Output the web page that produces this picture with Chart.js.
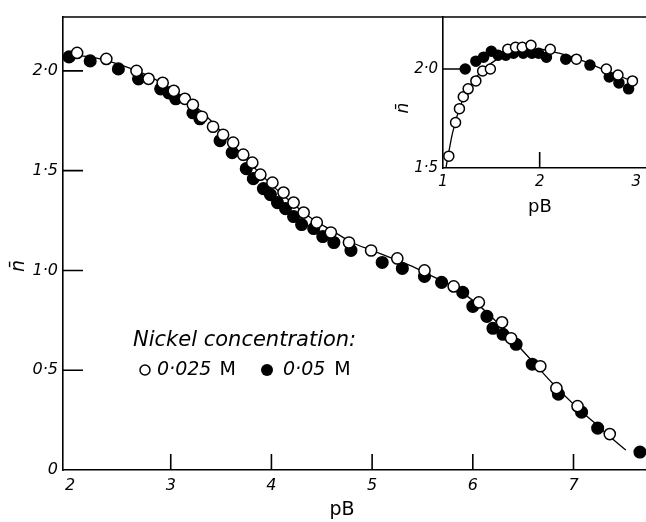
<!DOCTYPE html>
<html>
<head>
<meta charset="utf-8">
<script src="https://cdn.jsdelivr.net/npm/chart.js@4.4.0/dist/chart.umd.min.js"></script>
<style>
  body{margin:0;background:#fff;}
  #wrap{position:relative;width:646px;height:522px;overflow:hidden;}
  #mainChart{position:absolute;left:0;top:0;}
  #insetChart{position:absolute;left:390px;top:0;}
</style>
</head>
<body>
<div id="wrap">
  <canvas id="mainChart" width="646" height="522"></canvas>
  <canvas id="insetChart" width="256" height="222"></canvas>
</div>
<script>
// ---- main panel: n-bar against pB ----
const openX = [2.07,2.36,2.66,2.78,2.92,3.03,3.14,3.22,3.31,3.42,3.52,3.62,3.72,3.81,3.89,4.01,4.12,4.22,4.32,4.45,4.59,4.77,4.99,5.25,5.52,5.81,6.06,6.29,6.38,6.67,6.83,7.04,7.36];
const openY = [2.09,2.06,2.00,1.96,1.94,1.90,1.86,1.83,1.77,1.72,1.68,1.64,1.58,1.54,1.48,1.44,1.39,1.34,1.29,1.24,1.19,1.14,1.10,1.06,1.00,0.92,0.84,0.74,0.66,0.52,0.41,0.32,0.18];
const fillX = [1.99,2.20,2.48,2.68,2.90,2.98,3.05,3.22,3.29,3.49,3.61,3.75,3.82,3.92,3.99,4.06,4.14,4.22,4.30,4.42,4.51,4.62,4.79,5.10,5.30,5.52,5.69,5.90,6.00,6.14,6.20,6.30,6.43,6.59,6.85,7.08,7.24,7.66];
const fillY = [2.07,2.05,2.01,1.96,1.91,1.89,1.86,1.79,1.76,1.65,1.59,1.51,1.46,1.41,1.38,1.34,1.31,1.27,1.23,1.21,1.17,1.14,1.10,1.04,1.01,0.97,0.94,0.89,0.82,0.77,0.71,0.68,0.63,0.53,0.38,0.29,0.21,0.09];
const curveX = [1.95,2.2,2.5,2.8,3.0,3.2,3.4,3.6,3.8,4.0,4.2,4.4,4.6,4.8,5.0,5.2,5.4,5.6,5.8,6.0,6.2,6.4,6.6,6.8,7.0,7.2,7.4,7.52];
const curveY = [2.08,2.07,2.03,1.97,1.91,1.84,1.75,1.64,1.53,1.43,1.34,1.26,1.20,1.14,1.10,1.06,1.02,0.97,0.92,0.85,0.76,0.65,0.54,0.43,0.33,0.24,0.15,0.10];
const xTicks = [2,3,4,5,6,7];
const xTickLabels = ['2','3','4','5','6','7'];
const yTicks = [0,0.5,1,1.5,2];
const yTickLabels = ['0','0·5','1·0','1·5','2·0'];

// ---- inset: low pB region ----
const inOpenX = [1.06,1.13,1.17,1.21,1.26,1.34,1.41,1.49,1.67,1.75,1.82,1.91,2.11,2.38,2.69,2.81,2.96];
const inOpenY = [1.56,1.73,1.80,1.86,1.90,1.94,1.99,2.00,2.10,2.11,2.11,2.12,2.10,2.05,2.00,1.97,1.94];
const inFillX = [1.23,1.34,1.42,1.50,1.57,1.65,1.73,1.83,1.92,1.99,2.07,2.27,2.52,2.72,2.82,2.92];
const inFillY = [2.00,2.04,2.06,2.09,2.07,2.07,2.08,2.08,2.08,2.08,2.06,2.05,2.02,1.96,1.93,1.90];
const inCurveX = [1.03,1.1,1.2,1.3,1.4,1.5,1.6,1.8,2.0,2.2,2.4,2.6,2.8,3.0];
const inCurveY = [1.50,1.68,1.84,1.93,1.99,2.03,2.06,2.09,2.10,2.08,2.05,2.01,1.97,1.93];
const inXTicks = [1,2,3];
const inXTickLabels = ['1','2','3'];
const inYTicks = [1.5,2];
const inYTickLabels = ['1·5','2·0'];

const FAM = '"DejaVu Sans", sans-serif';
const pts = (xs, ys) => xs.map((x,i)=>({x:x, y:ys[i]}));

function pointSet(xs, ys, filled, r, order){
  return {data:pts(xs,ys), showLine:false, pointRadius:r, pointBorderWidth:1.5,
    pointBorderColor:'#000', pointBackgroundColor: filled ? '#000' : '#fff', clip:false, order:order};
}
function curveSet(xs, ys){
  return {data:pts(xs,ys), showLine:true, pointRadius:0, borderColor:'#000', borderWidth:1.3,
    cubicInterpolationMode:'monotone', order:5};
}
function axis(min, max, ticks, labels, fit, pad, size){
  return {
    type:'linear', min:min, max:max,
    afterFit: fit,
    afterBuildTicks: s => { s.ticks = ticks.map(v=>({value:v})); },
    grid:{display:true, drawOnChartArea:false, drawTicks:false},
    border:{display:true, color:'#000', width:1.6},
    ticks:{padding:pad, color:'#000', autoSkip:false, maxRotation:0,
      font:{family:FAM, style:'italic', size:size},
      callback: v => labels[ticks.indexOf(v)]}
  };
}

// inward tick marks, shared by both panels
function inwardTicks(chart, xt, yt, xLen, yLen){
  const {ctx, chartArea:a, scales:{x, y}} = chart;
  ctx.save();
  ctx.strokeStyle = '#000'; ctx.lineWidth = 1.6;
  ctx.beginPath();
  xt.forEach(v=>{ const px = x.getPixelForValue(v); ctx.moveTo(px, a.bottom); ctx.lineTo(px, a.bottom - xLen); });
  yt.forEach(v=>{ const py = y.getPixelForValue(v); ctx.moveTo(a.left, py); ctx.lineTo(a.left + yLen, py); });
  ctx.stroke();
  ctx.restore();
}
function rotText(ctx, txt, x, y, font){
  ctx.save(); ctx.translate(x, y); ctx.rotate(-Math.PI/2);
  ctx.font = font; ctx.textAlign = 'center'; ctx.textBaseline = 'middle';
  ctx.fillText(txt, 0, 0); ctx.restore();
}

const mainDeco = {
  id:'mainDeco',
  afterDraw(chart){
    const {ctx, chartArea:a} = chart;
    inwardTicks(chart, [3,4,5,6,7], [0.5,1,1.5,2], 16, 20);
    ctx.save();
    ctx.strokeStyle = '#000'; ctx.lineWidth = 1.6;
    ctx.beginPath(); ctx.moveTo(a.left, a.top); ctx.lineTo(a.right, a.top); ctx.stroke();
    ctx.fillStyle = '#000';
    // axis titles
    ctx.font = '19px ' + FAM; ctx.textAlign = 'center'; ctx.textBaseline = 'middle';
    ctx.fillText('pB', 342, 510);
    rotText(ctx, 'n\u0304', 19, 266, 'italic 19px ' + FAM);
    // legend
    ctx.textAlign = 'left';
    ctx.font = 'italic 21px ' + FAM;
    ctx.fillText('Nickel concentration:', 133, 341);
    ctx.lineWidth = 1.5;
    ctx.beginPath(); ctx.arc(145, 370, 5, 0, Math.PI*2); ctx.fillStyle='#fff'; ctx.fill(); ctx.stroke();
    ctx.fillStyle = '#000';
    ctx.beginPath(); ctx.arc(267, 370, 6, 0, Math.PI*2); ctx.fill();
    ctx.font = 'italic 19px ' + FAM;
    ctx.fillText('0·025', 157, 370);
    ctx.fillText('0·05', 283, 370);
    const w1 = ctx.measureText('0·025').width, w2 = ctx.measureText('0·05').width;
    ctx.font = '19px ' + FAM;
    ctx.fillText('M', 157 + w1 + 8, 370);
    ctx.fillText('M', 283 + w2 + 9, 370);
    ctx.restore();
  }
};

new Chart(document.getElementById('mainChart'), {
  type:'scatter',
  data:{datasets:[
    curveSet(curveX, curveY),
    pointSet(fillX, fillY, true, 5.8, 2),
    pointSet(openX, openY, false, 5.6, 1)
  ]},
  options:{
    responsive:false, animation:false, events:[],
    layout:{autoPadding:false, padding:{top:17, left:0, right:0, bottom:0}},
    plugins:{legend:{display:false}, tooltip:{enabled:false}},
    scales:{
      x: axis(1.93, 7.72, xTicks, xTickLabels, s=>{ s.height = 52; }, 6, 16),
      y: axis(0, 2.27, yTicks, yTickLabels, s=>{ s.width = 63; }, 5, 16)
    }
  },
  plugins:[mainDeco]
});

const insetDeco = {
  id:'insetDeco',
  afterDraw(chart){
    const {ctx} = chart;
    inwardTicks(chart, [2], [2], 16, 19);
    ctx.save();
    ctx.fillStyle = '#000';
    ctx.font = '18px ' + FAM; ctx.textAlign = 'center'; ctx.textBaseline = 'middle';
    ctx.fillText('pB', 150, 207);
    rotText(ctx, 'n\u0304', 14, 108, 'italic 17px ' + FAM);
    ctx.restore();
  }
};

new Chart(document.getElementById('insetChart'), {
  type:'scatter',
  data:{datasets:[
    curveSet(inCurveX, inCurveY),
    pointSet(inFillX, inFillY, true, 5, 2),
    pointSet(inOpenX, inOpenY, false, 5, 1)
  ]},
  options:{
    responsive:false, animation:false, events:[],
    layout:{autoPadding:false, padding:{top:17, left:0, right:0, bottom:0}},
    plugins:{legend:{display:false}, tooltip:{enabled:false}},
    scales:{
      x: axis(1, 3.1, inXTicks, inXTickLabels, s=>{ s.height = 54; s.paddingRight = 0; s.paddingLeft = 0; }, 5, 15),
      y: axis(1.5, 2.263, inYTicks, inYTickLabels, s=>{ s.width = 53; }, 5, 15)
    }
  },
  plugins:[insetDeco]
});
</script>
</body>
</html>
